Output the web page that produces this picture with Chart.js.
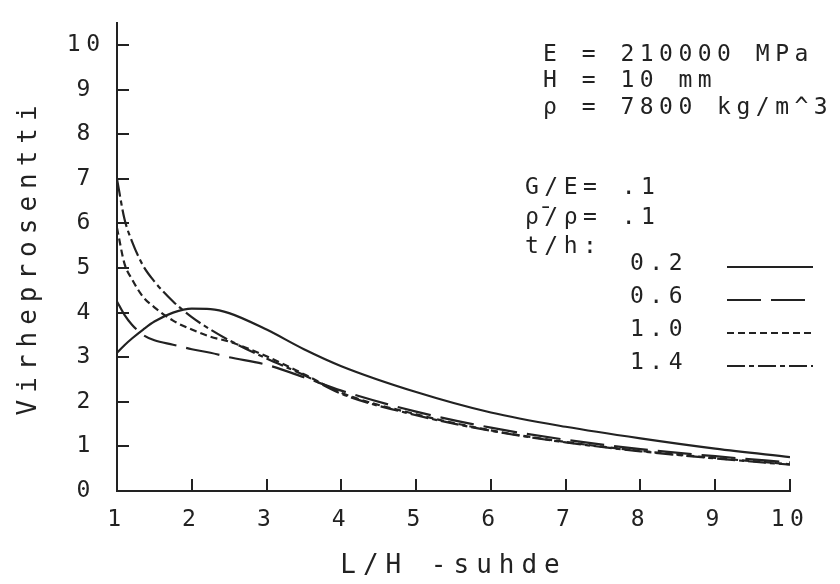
<!DOCTYPE html>
<html><head><meta charset="utf-8">
<script src="https://cdn.jsdelivr.net/npm/chart.js@4"></script>
<style>html,body{margin:0;padding:0;background:#fff}</style>
</head><body>
<canvas id="c" width="840" height="584"></canvas>
<script>
// ---- data ----
const lhRatios = [1, 1.1, 1.2, 1.35, 1.5, 1.75, 2, 2.25, 2.5, 3, 3.5, 4, 5, 6, 7, 8, 9, 10];
const seriesLabels = ['0.2', '0.6', '1.0', '1.4'];
const th02 = [3.10, 3.27, 3.42, 3.62, 3.80, 4.00, 4.09, 4.08, 3.99, 3.62, 3.18, 2.80, 2.22, 1.76, 1.44, 1.18, 0.95, 0.76];
const th06 = [4.25, 3.95, 3.73, 3.50, 3.38, 3.28, 3.18, 3.10, 3.00, 2.83, 2.55, 2.25, 1.78, 1.42, 1.15, 0.94, 0.78, 0.64];
const th10 = [5.90, 5.10, 4.75, 4.35, 4.12, 3.82, 3.62, 3.46, 3.35, 3.02, 2.62, 2.20, 1.72, 1.36, 1.10, 0.90, 0.74, 0.60];
const th14 = [7.00, 6.10, 5.60, 5.05, 4.70, 4.25, 3.90, 3.62, 3.38, 2.97, 2.60, 2.18, 1.70, 1.35, 1.09, 0.89, 0.73, 0.59];
const xTicks = [1, 2, 3, 4, 5, 6, 7, 8, 9, 10];
const yTicks = [0, 1, 2, 3, 4, 5, 6, 7, 8, 9, 10];
const paramLines = ['E = 210000 MPa', 'H = 10 mm', 'ρ = 7800 kg/m^3'];
const ratioLines = ['G/E= .1', 'ρ̄/ρ= .1'];
const legendHeading = 't/h:';
const xTitle = 'L/H -suhde';
const yTitle = 'Virheprosentti';

// ---- styling ----
const MONO = "'DejaVu Sans Mono', monospace";
const INK = '#222222';
const SPACING = '5.5px';
const TITLE_SPACING = '7px';
const dashStyles = [[], [34, 10], [7, 4], [18, 4, 5, 4]];
const seriesValues = [th02, th06, th10, th14];

const datasets = seriesLabels.map((lab, i) => ({
  label: lab,
  data: lhRatios.map((x, j) => ({ x: x, y: seriesValues[i][j] })),
  borderColor: INK,
  borderWidth: 2.2,
  borderDash: dashStyles[i],
  pointRadius: 0,
  fill: false,
  cubicInterpolationMode: 'monotone'
}));

const spacingPlugin = {
  id: 'spacing',
  afterLayout(chart) {
    Object.values(chart.scales).forEach(s => {
      if (s._wrappedTitle) return;
      const orig = s.drawTitle.bind(s);
      s.drawTitle = function () {
        const c = this.ctx;
        const prev = c.letterSpacing;
        c.letterSpacing = TITLE_SPACING;
        orig();
        c.letterSpacing = prev;
      };
      s._wrappedTitle = true;
    });
  },
  beforeDraw(chart) {
    const c = chart.ctx;
    c.save();
    c.fillStyle = '#ffffff';
    c.fillRect(0, 0, chart.width, chart.height);
    c.restore();
    c.letterSpacing = SPACING;
  }
};

const innerTicks = {
  id: 'innerTicks',
  afterDatasetsDraw(chart) {
    const xs = chart.scales.x, ys = chart.scales.y, c = chart.ctx;
    c.save();
    c.strokeStyle = INK; c.lineWidth = 2; c.setLineDash([]);
    ys.ticks.forEach(t => {
      if (t.value === ys.min) return;
      const py = Math.round(ys.getPixelForValue(t.value));
      c.beginPath(); c.moveTo(xs.left, py); c.lineTo(xs.left + 12, py); c.stroke();
    });
    xs.ticks.forEach(t => {
      if (t.value === xs.min) return;
      const px = Math.round(xs.getPixelForValue(t.value));
      c.beginPath(); c.moveTo(px, ys.bottom); c.lineTo(px, ys.bottom - 12); c.stroke();
    });
    c.restore();
  }
};

const annotations = {
  id: 'annotations',
  afterDraw(chart) {
    const c = chart.ctx;
    c.save();
    c.letterSpacing = SPACING;
    c.font = '23px ' + MONO;
    c.fillStyle = INK;
    c.textBaseline = 'middle';
    c.textAlign = 'left';
    paramLines.forEach((t, i) => c.fillText(t, 543, 55 + i * 26.5));
    ratioLines.forEach((t, i) => c.fillText(t, 525, 188 + i * 30));
    c.fillText(legendHeading, 525, 247);
    chart.data.datasets.forEach((ds, i) => {
      const y = 264 + i * 33;
      c.fillText(ds.label, 630, y);
      c.beginPath();
      c.setLineDash(ds.borderDash);
      c.lineWidth = 2;
      c.strokeStyle = INK;
      c.moveTo(727, y + 3); c.lineTo(813, y + 3);
      c.stroke();
    });
    c.restore();
  }
};

const tickFont = { family: MONO, size: 23 };
const titleFont = { family: MONO, size: 26 };

new Chart(document.getElementById('c'), {
  type: 'line',
  data: { datasets: datasets },
  options: {
    responsive: false,
    animation: false,
    devicePixelRatio: 1,
    layout: { padding: { left: 0, top: 4, right: 50, bottom: 0 } },
    plugins: { legend: { display: false }, tooltip: { enabled: false } },
    scales: {
      x: {
        type: 'linear', min: 1, max: 10,
        afterBuildTicks: s => { s.ticks = xTicks.map(v => ({ value: v })); },
        afterFit: s => { s.height = 93; },
        grid: { display: false },
        border: { display: true, color: INK, width: 2 },
        ticks: { font: tickFont, color: INK, padding: 7, maxRotation: 0, autoSkip: false },
        title: { display: true, text: xTitle, font: titleFont, color: INK, padding: { top: 0, bottom: 2 } }
      },
      y: {
        type: 'linear', min: 0, max: 10.5,
        afterBuildTicks: s => { s.ticks = yTicks.map(v => ({ value: v })); },
        afterFit: s => { s.width = 117; },
        grid: { display: false },
        border: { display: true, color: INK, width: 2 },
        ticks: { font: tickFont, color: INK, padding: 9, crossAlign: 'center', autoSkip: false },
        title: { display: true, text: yTitle, font: titleFont, color: INK, padding: { top: 14, bottom: 0 } }
      }
    }
  },
  plugins: [spacingPlugin, innerTicks, annotations]
});
</script>
</body></html>
